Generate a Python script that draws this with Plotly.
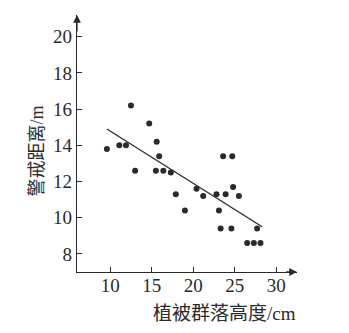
import plotly.graph_objects as go

# data
height_cm = [9.6, 11.1, 11.9, 12.5, 13.0, 14.7, 15.6, 15.9, 15.5, 16.4, 17.3, 17.9, 19.0,
             20.4, 21.2, 22.8, 23.1, 23.6, 23.3, 23.9, 24.7, 24.8, 24.6, 25.5, 26.5, 27.3, 27.7, 28.1]
distance_m = [13.8, 14.0, 14.0, 16.2, 12.6, 15.2, 14.2, 13.4, 12.6, 12.6, 12.5, 11.3, 10.4,
              11.6, 11.2, 11.3, 10.4, 13.4, 9.4, 11.3, 13.4, 11.7, 9.4, 11.2, 8.6, 8.6, 9.4, 8.6]
fit_x = [9.6, 28.3]
fit_y = [14.9, 9.5]
x_ticks = [10, 15, 20, 25, 30]
y_ticks = [8, 10, 12, 14, 16, 18, 20]
x_range = [6, 32.5]
y_range = [7, 21.2]

ink = "#2a2a2a"
serif = "Liberation Serif, Noto Sans CJK SC"

fig = go.Figure()
fig.add_trace(go.Scatter(x=fit_x, y=fit_y, mode="lines",
                         line=dict(color=ink, width=1.3), showlegend=False))
fig.add_trace(go.Scatter(x=height_cm, y=distance_m, mode="markers",
                         marker=dict(color=ink, size=6), showlegend=False))

axis_common = dict(showgrid=False, zeroline=False, showline=True, linecolor=ink, linewidth=1.3,
                   ticks="inside", ticklen=5, tickwidth=1.2, tickcolor=ink,
                   tickfont=dict(family=serif, size=19, color=ink))
fig.update_xaxes(range=x_range, tickvals=x_ticks, ticklabelstandoff=-4, **axis_common)
fig.update_yaxes(range=y_range, tickvals=y_ticks, **axis_common)

# axis arrows
fig.add_annotation(x=x_range[1], y=y_range[0], ax=x_range[1] - 1.5, ay=y_range[0],
                   xref="x", yref="y", axref="x", ayref="y", text="", showarrow=True,
                   arrowhead=2, arrowsize=1.2, arrowwidth=1.3, arrowcolor=ink)
fig.add_annotation(x=x_range[0], y=y_range[1], ax=x_range[0], ay=y_range[1] - 1.0,
                   xref="x", yref="y", axref="x", ayref="y", text="", showarrow=True,
                   arrowhead=2, arrowsize=1.2, arrowwidth=1.3, arrowcolor=ink)

# titles
fig.add_annotation(x=-0.18, y=0.47, xref="paper", yref="paper", text="警戒距离/m",
                   xanchor="center", yanchor="middle",
                   textangle=-90, showarrow=False, font=dict(family=serif, size=18, color=ink))
fig.add_annotation(x=0.67, y=-0.16, xref="paper", yref="paper", text="植被群落高度/cm",
                   xanchor="center", yanchor="middle",
                   showarrow=False, font=dict(family=serif, size=19, color=ink))

fig.update_layout(width=349, height=333, margin=dict(l=77, r=52, t=15, b=61),
                  paper_bgcolor="white", plot_bgcolor="white")
fig.write_html("out.html")
